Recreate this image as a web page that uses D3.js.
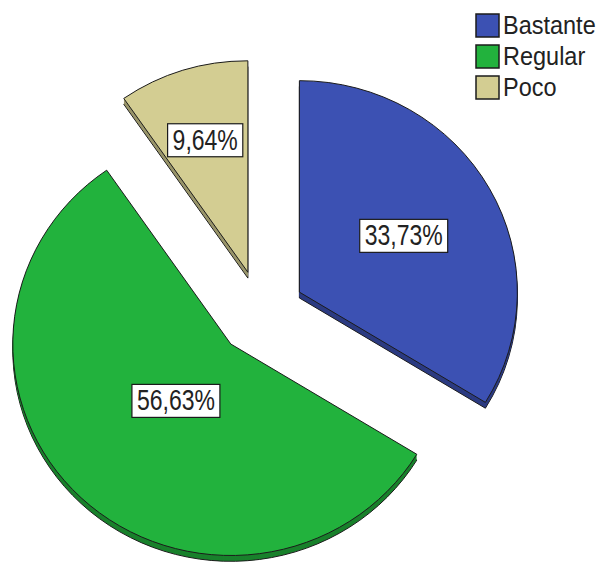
<!DOCTYPE html>
<html>
<head>
<meta charset="utf-8">
<script src="https://cdn.jsdelivr.net/npm/d3@7"></script>
<style>
  body { margin: 0; background: #fff; }
  svg { display: block; font-family: Arial, "Liberation Sans", sans-serif; }
</style>
</head>
<body>
<div id="chart"></div>
<script>
var categories = ["Bastante", "Regular", "Poco"];
var values = [33.73, 56.63, 9.64];
var labels = ["33,73%", "56,63%", "9,64%"];
var colors = ["#3c51b3", "#22b23d", "#d3cd92"];

var svg_width = 606;
var svg_height = 562;
var cx = 261, cy = 313;
var radius = 218;
var squash = 0.97;
var explode = 44;
var depth = 6;

var mysvg = d3.select("#chart")
  .append("svg")
  .attr("width", svg_width)
  .attr("height", svg_height);

var data = categories.map(function(c, i){ return {name: c, value: values[i], label: labels[i], col: colors[i]}; });

var pie = d3.pie().sort(null).value(function(d){ return d.value; });
var arc = d3.arc().innerRadius(0).outerRadius(radius);
var arcs = pie(data);

var g = mysvg.append("g").attr("transform", "translate(" + cx + "," + cy + ") scale(1," + squash + ")");

function offset(d) {
  var mid = (d.startAngle + d.endAngle) / 2;
  return [Math.sin(mid) * explode, -Math.cos(mid) * explode];
}

// side (depth) of each slice
for (var k = depth; k >= 1; k--) {
  g.selectAll("path.side" + k)
    .data(arcs)
    .enter()
    .append("path")
    .attr("d", arc)
    .attr("fill", function(d){ return d3.color(d.data.col).darker(0.9); })
    .attr("stroke", k == depth ? "#1b1b1b" : "none")
    .attr("vector-effect", "non-scaling-stroke")
    .attr("transform", function(d){ var o = offset(d); return "translate(" + o[0] + "," + (o[1] + k) + ")"; });
}

// top faces
g.selectAll("path.top")
  .data(arcs)
  .enter()
  .append("path")
  .attr("class", "top")
  .attr("d", arc)
  .attr("fill", function(d){ return d.data.col; })
  .attr("stroke", "#1b1b1b")
  .attr("stroke-width", 1)
  .attr("vector-effect", "non-scaling-stroke")
  .attr("transform", function(d){ var o = offset(d); return "translate(" + o[0] + "," + o[1] + ")"; });

// labels at the centroid of each sector
var lab = mysvg.selectAll("g.lab")
  .data(arcs)
  .enter()
  .append("g")
  .attr("class", "lab")
  .attr("transform", function(d){
    var o = offset(d);
    var mid = (d.startAngle + d.endAngle) / 2;
    var a = (d.endAngle - d.startAngle) / 2;
    var dist = 2 * radius * Math.sin(a) / (3 * a);
    var x = cx + o[0] + Math.sin(mid) * dist;
    var y = cy + (o[1] - Math.cos(mid) * dist) * squash;
    return "translate(" + x + "," + y + ")";
  });

lab.each(function(d){
  var el = d3.select(this);
  var t = el.append("text")
    .attr("text-anchor", "middle")
    .attr("dominant-baseline", "central")
    .attr("font-size", 23)
    .attr("fill", "#222")
    .attr("transform", "scale(1,1.25)")
    .text(d.data.label);
  var w = t.node().getComputedTextLength();
  el.insert("rect", "text")
    .attr("x", -w / 2 - 5)
    .attr("y", -16)
    .attr("width", w + 10)
    .attr("height", 33)
    .attr("fill", "#fff")
    .attr("stroke", "#1b1b1b")
    .attr("stroke-width", 1.2);
});

// legend
var leg = mysvg.selectAll("g.leg")
  .data(data)
  .enter()
  .append("g")
  .attr("class", "leg")
  .attr("transform", function(d, i){ return "translate(476," + (25 + i * 31) + ")"; });

leg.append("rect")
  .attr("x", 0)
  .attr("y", -11)
  .attr("width", 23)
  .attr("height", 23)
  .attr("fill", function(d){ return d.col; })
  .attr("stroke", "#1b1b1b")
  .attr("stroke-width", 1.5);

leg.append("text")
  .attr("x", 27)
  .attr("y", 0)
  .attr("dominant-baseline", "central")
  .attr("font-size", 23.5)
  .attr("fill", "#222")
  .attr("transform", "scale(1,1.12)")
  .text(function(d){ return d.name; });
</script>
</body>
</html>
